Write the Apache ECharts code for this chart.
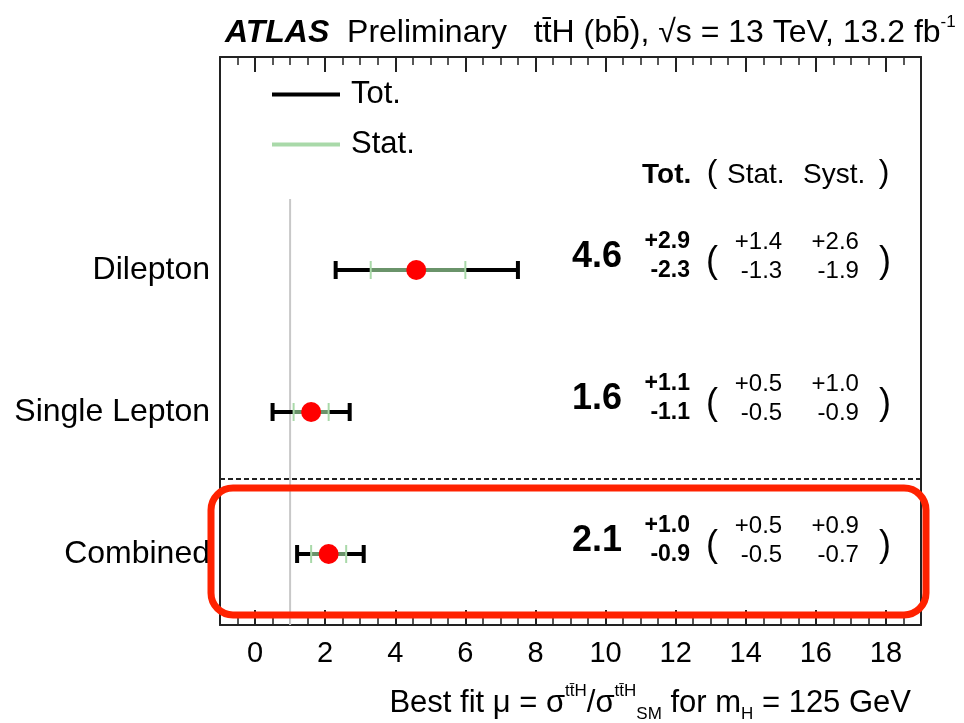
<!DOCTYPE html>
<html><head><meta charset="utf-8">
<script src="https://cdn.jsdelivr.net/npm/echarts@6/dist/echarts.min.js"></script>
<style>html,body{margin:0;padding:0;background:#fff}#c{width:964px;height:723px}</style>
</head><body><div id="c"></div>
<script>
// ---- data ----
const categories = ['Dilepton', 'Single Lepton', 'Combined'];
const mu = [4.6, 1.6, 2.1];
const totUp = [2.9, 1.1, 1.0];
const totDown = [2.3, 1.1, 0.9];
const statUp = [1.4, 0.5, 0.5];
const statDown = [1.3, 0.5, 0.5];
const systUp = [2.6, 1.0, 0.9];
const systDown = [1.9, 0.9, 0.7];
const smMu = 1;
const xMin = -1, xMax = 19;

// ---- layout helpers ----
const FONT = '"Liberation Sans", Arial, Helvetica, sans-serif';
const n = categories.length;
const rowY = i => n - 1 - i + 0.5;
const rows = categories.map((c, i) => [mu[i], rowY(i), totDown[i], totUp[i], statDown[i], statUp[i], systDown[i], systUp[i]]);

function barRender(color, width, capColor, capWidth, capHalf, loIdx, hiIdx) {
  return function (params, api) {
    const m = api.value(0), y = api.value(1);
    const lo = api.coord([m - api.value(loIdx), y]);
    const hi = api.coord([m + api.value(hiIdx), y]);
    return {type: 'group', children: [
      {type: 'line', shape: {x1: lo[0], y1: lo[1], x2: hi[0], y2: hi[1]}, style: {stroke: color, lineWidth: width}},
      {type: 'line', shape: {x1: lo[0], y1: lo[1] - capHalf, x2: lo[0], y2: lo[1] + capHalf}, style: {stroke: capColor, lineWidth: capWidth}},
      {type: 'line', shape: {x1: hi[0], y1: hi[1] - capHalf, x2: hi[0], y2: hi[1] + capHalf}, style: {stroke: capColor, lineWidth: capWidth}}
    ]};
  };
}

// text column positions (in axis units)
const COL_VAL = 10.47, COL_TOT = 12.41, COL_LP = 13.04, COL_STAT = 15.04, COL_SYST = 17.23, COL_RP = 17.97;
function txt(x, y, s, size, weight, align) {
  return {type: 'text', x: x, y: y, style: {text: s, fontSize: size, fontWeight: weight || 'normal', fontFamily: FONT, fill: '#000', align: align || 'right', verticalAlign: 'middle'}};
}
function textRender(params, api) {
  const y = api.value(1);
  const m = api.value(0);
  const yc = api.coord([0, y])[1];
  const X = v => api.coord([v, y])[0];
  return {type: 'group', children: [
    txt(X(COL_VAL), yc - 13, m.toFixed(1), 36, 'bold'),
    txt(X(COL_TOT), yc - 28, '+' + api.value(3).toFixed(1), 23, 'bold'),
    txt(X(COL_TOT), yc + 1, '-' + api.value(2).toFixed(1), 23, 'bold'),
    txt(X(COL_LP), yc - 8, '(', 36, 'normal', 'center'),
    txt(X(COL_STAT), yc - 28, '+' + api.value(5).toFixed(1), 24),
    txt(X(COL_STAT), yc + 1, '-' + api.value(4).toFixed(1), 24),
    txt(X(COL_SYST), yc - 28, '+' + api.value(7).toFixed(1), 24),
    txt(X(COL_SYST), yc + 1, '-' + api.value(6).toFixed(1), 24),
    txt(X(COL_RP), yc - 8, ')', 36, 'normal', 'center')
  ]};
}

const xAxisBase = {
  type: 'value', min: xMin, max: xMax, splitNumber: 10,
  axisLine: {show: true, onZero: false, lineStyle: {color: '#222', width: 2}},
  axisTick: {show: true, inside: true, length: 15, lineStyle: {color: '#222', width: 2}},
  minorTick: {show: true, splitNumber: 4, length: 8, lineStyle: {color: '#222', width: 1.5}},
  splitLine: {show: false}, minorSplitLine: {show: false}
};

const chart = echarts.init(document.getElementById('c'), null, {renderer: 'canvas'});
chart.setOption({
  backgroundColor: '#fff',
  animation: false,
  textStyle: {fontFamily: FONT},
  title: [
    {left: 220, top: 9, text: '{a|ATLAS}{b|  Preliminary   t\u0074\u0304H (b\u0062\u0304), \u221As = 13 TeV, 13.2 fb}{s|-1}',
      textStyle: {fontWeight: 'normal', rich: {
        a: {fontSize: 32, fontWeight: 'bold', fontStyle: 'italic', fontFamily: FONT, color: '#000', lineHeight: 38},
        b: {fontSize: 32, fontWeight: 'normal', fontFamily: FONT, color: '#000', lineHeight: 38},
        s: {fontSize: 17, fontWeight: 'normal', fontFamily: FONT, color: '#000', verticalAlign: 'top', lineHeight: 38}
      }}},
    {right: 48, top: 678, text: '{t|Best fit \u03BC = \u03C3}{sup|t\u0074\u0304H}{t|/\u03C3}{sup|t\u0074\u0304H}{sub|SM}{t| for m}{sub|H}{t| = 125 GeV}',
      textStyle: {fontWeight: 'normal', rich: {
        t: {fontSize: 31, fontWeight: 'normal', fontFamily: FONT, color: '#000', lineHeight: 40},
        sup: {fontSize: 17, fontWeight: 'normal', fontFamily: FONT, color: '#000', verticalAlign: 'top', lineHeight: 40},
        sub: {fontSize: 17, fontWeight: 'normal', fontFamily: FONT, color: '#000', verticalAlign: 'bottom', lineHeight: 40}
      }}}
  ],
  legend: {
    orient: 'vertical', left: 267, top: 74, itemWidth: 68, itemHeight: 4, itemGap: 19, selectedMode: false,
    textStyle: {fontSize: 31, fontFamily: FONT, color: '#000', lineHeight: 30, padding: [0, 0, 0, 6]},
    data: [{name: 'Tot.', icon: 'rect', itemStyle: {color: '#000'}}, {name: 'Stat.', icon: 'rect', itemStyle: {color: '#a9d9a9'}}]
  },
  grid: {left: 220, right: 43, top: 57, bottom: 98, containLabel: false},
  xAxis: [
    Object.assign({}, xAxisBase, {position: 'bottom',
      axisLabel: {show: true, fontSize: 29, fontFamily: FONT, color: '#000', margin: 14, formatter: v => (v < 0 || v > 18) ? '' : String(v)}}),
    Object.assign({}, xAxisBase, {position: 'top', axisLabel: {show: false}})
  ],
  yAxis: [
    {type: 'category', position: 'left', data: categories.slice().reverse().concat(['']),
      axisLine: {show: true, onZero: false, lineStyle: {color: '#222', width: 2}}, axisTick: {show: false},
      axisLabel: {fontSize: 32, fontFamily: FONT, color: '#000', margin: 10}, splitLine: {show: false}},
    {type: 'value', position: 'right', min: 0, max: 4,
      axisLine: {show: true, onZero: false, lineStyle: {color: '#222', width: 2}}, axisTick: {show: false},
      axisLabel: {show: false}, splitLine: {show: false}}
  ],
  graphic: [
    {type: 'text', x: 642, y: 175, style: {text: 'Tot.', fontSize: 28, fontWeight: 'bold', fontFamily: FONT, fill: '#000', verticalAlign: 'middle'}},
    {type: 'text', x: 712, y: 173, style: {text: '(', fontSize: 32, fontFamily: FONT, fill: '#000', align: 'center', verticalAlign: 'middle'}},
    {type: 'text', x: 727, y: 175, style: {text: 'Stat.', fontSize: 28, fontFamily: FONT, fill: '#000', verticalAlign: 'middle'}},
    {type: 'text', x: 803, y: 175, style: {text: 'Syst.', fontSize: 28, fontFamily: FONT, fill: '#000', verticalAlign: 'middle'}},
    {type: 'text', x: 884, y: 173, style: {text: ')', fontSize: 32, fontFamily: FONT, fill: '#000', align: 'center', verticalAlign: 'middle'}},
    {type: 'rect', shape: {x: 211, y: 488, width: 715, height: 127, r: 22}, style: {fill: 'none', stroke: '#ff2200', lineWidth: 7}, z: 100}
  ],
  series: [
    {name: 'SM', type: 'custom', xAxisIndex: 0, yAxisIndex: 1, z: 1, data: [[smMu, 0, 3.0]],
      renderItem: (p, api) => {
        const a = api.coord([api.value(0), api.value(1)]), b = api.coord([api.value(0), api.value(2)]);
        return {type: 'line', shape: {x1: a[0], y1: a[1], x2: b[0], y2: b[1]}, style: {stroke: '#c8c8c8', lineWidth: 2}};
      },
      markLine: {silent: true, symbol: 'none', label: {show: false},
        lineStyle: {type: [5, 3], color: '#222', width: 2}, data: [{yAxis: 1.03}]}},
    {name: 'Tot.', type: 'custom', xAxisIndex: 0, yAxisIndex: 1, z: 3, itemStyle: {color: '#000'}, data: rows,
      renderItem: barRender('#000', 4, '#000', 4, 9, 2, 3)},
    {name: 'Stat.', type: 'custom', xAxisIndex: 0, yAxisIndex: 1, z: 4, itemStyle: {color: '#a9d9a9'}, data: rows,
      renderItem: barRender('#6a936a', 4, '#a9d9a9', 2, 9, 4, 5)},
    {name: 'mu', type: 'scatter', xAxisIndex: 0, yAxisIndex: 1, z: 5, symbol: 'circle', symbolSize: 20,
      itemStyle: {color: '#ff0000', opacity: 1}, data: rows.map(r => [r[0], r[1]])},
    {name: 'values', type: 'custom', xAxisIndex: 0, yAxisIndex: 1, z: 6, data: rows, renderItem: textRender}
  ]
});
</script></body></html>
